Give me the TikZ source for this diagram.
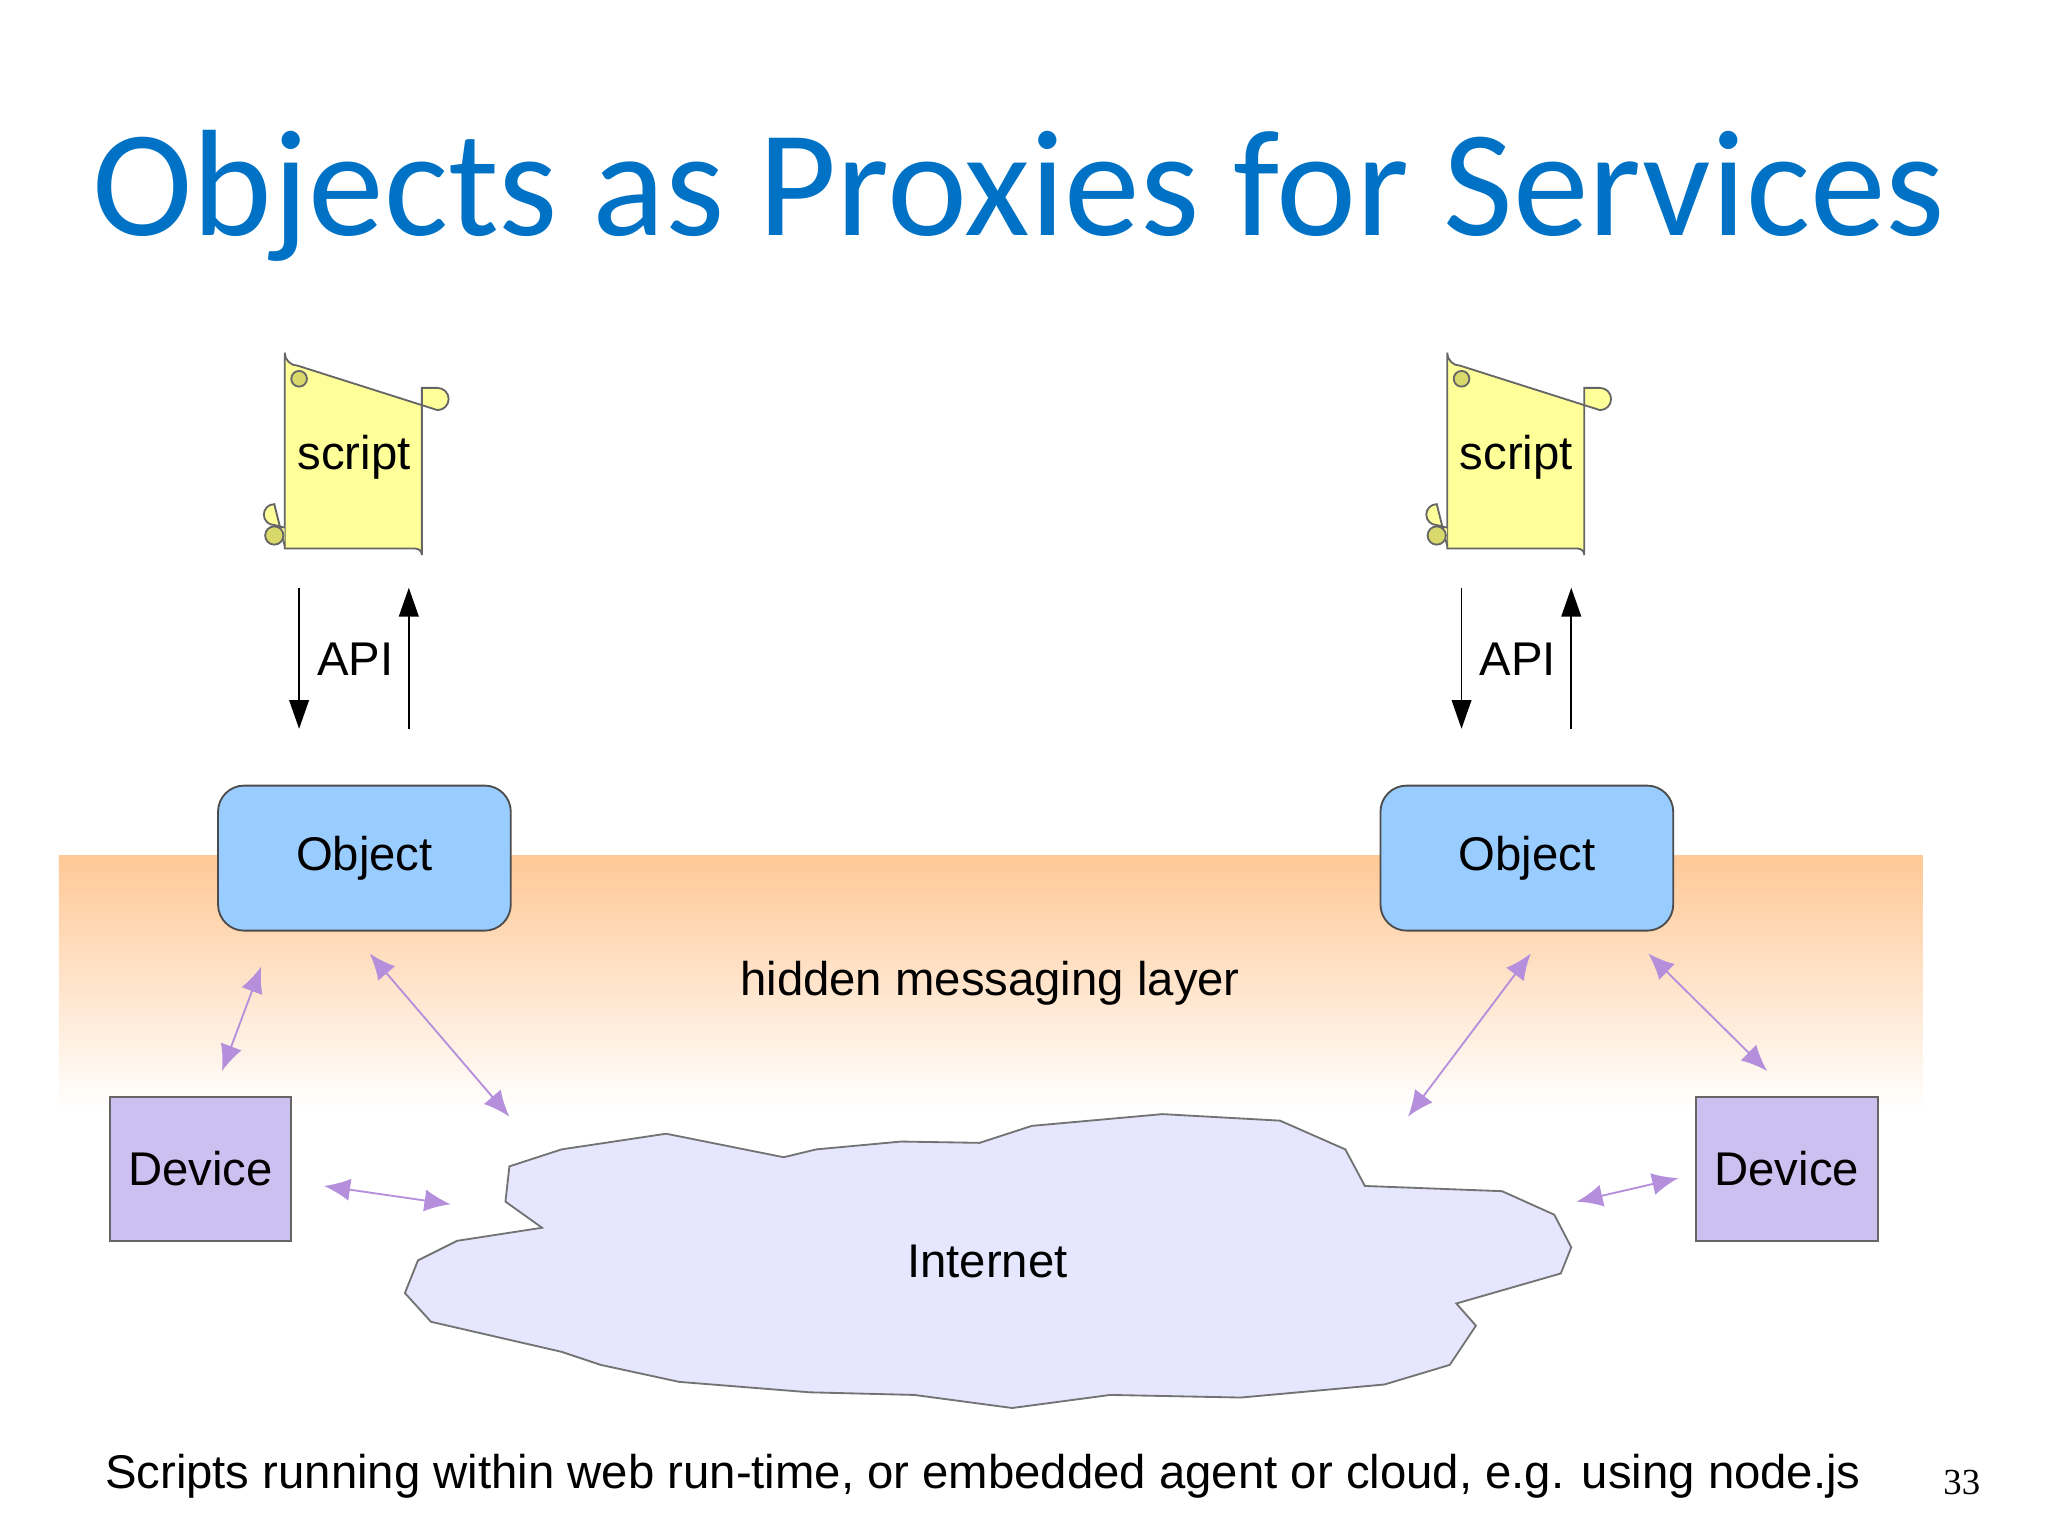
\documentclass[tikz,border=0pt]{standalone}
\usepackage{fontspec}
\setmainfont{Liberation Sans}
\newfontfamily\titlefont{Carlito}
\newfontfamily\numfont{Liberation Serif}
\usetikzlibrary{arrows.meta}
\definecolor{titleblue}{RGB}{0,114,198}
\definecolor{objblue}{RGB}{153,204,255}
\definecolor{devpurple}{RGB}{204,192,240}
\definecolor{cloudfill}{RGB}{230,230,255}
\definecolor{arrpurple}{RGB}{150,95,205}
\definecolor{scrollfill}{RGB}{255,255,153}
\definecolor{bandorange}{RGB}{255,200,150}
\begin{document}
\begin{tikzpicture}[x=0.01cm,y=-0.01cm,
  body/.style={font=\fontsize{10.3pt}{12pt}\selectfont},
  obj/.style={draw=black!70,fill=objblue,rounded corners=0.2cm,minimum width=2.24cm,minimum height=1.11cm,body},
  dev/.style={draw=black!60,fill=devpurple,minimum width=1.39cm,minimum height=1.1cm,body},
  api/.style={-{Triangle[length=0.22cm,width=0.15cm]},thin},
  link/.style={{Latex[length=0.2cm,width=0.17cm]}-{Latex[length=0.2cm,width=0.17cm]},draw=arrpurple!70,fill=arrpurple,thin},
  scrollst/.style={draw=black!60,fill=scrollfill,line width=0.4pt}]
\useasboundingbox (0,0) rectangle (1568,1176);
\fill[white] (0,0) rectangle (1568,1176);
\shade[top color=bandorange,bottom color=white] (45,655) rectangle (1472,850);
\node[font=\titlefont\fontsize{33pt}{36pt}\selectfont,text=titleblue] (title) at (780,150) {Objects as Proxies for Services};
% scrolls
\foreach \dx/\nm in {0/sl,890/sr}{
  \begin{scope}[xshift=\dx*0.01cm]
  \path[scrollst] (218,290) -- (218,420) -- (318,420) arc[start angle=-90,end angle=0,radius=5] -- (323,297) -- (335,297) arc[start angle=-90,end angle=90,radius=8.5] -- (228,280) arc[start angle=90,end angle=180,radius=10] -- cycle;
  \path[scrollst] (218,404) -- (210,402) arc[start angle=90,end angle=270,radius=8] -- (218,418);
  \path[draw=black!60,fill=scrollfill!70!olive] (210,410) circle (7);
  \path[draw=black!60,fill=scrollfill!70!olive] (229,290) circle (6);
  \end{scope}
}
\node[body] (scriptL) at (271,350) {script};
\node[body] (scriptR) at (1161,350) {script};
\coordinate (aL1) at (229,450); \coordinate (aL2) at (229,558);
\coordinate (aL3) at (313,558); \coordinate (aL4) at (313,450);
\coordinate (aR1) at (1119,450); \coordinate (aR2) at (1119,558);
\coordinate (aR3) at (1203,558); \coordinate (aR4) at (1203,450);
\draw[api] (aL1) -- (aL2); \draw[api] (aL3) -- (aL4);
\draw[api] (aR1) -- (aR2); \draw[api] (aR3) -- (aR4);
\node[body] (apiL) at (272,505) {API};
\node[body] (apiR) at (1162,505) {API};
\node[obj] (objL) at (279,657) {Object};
\node[obj] (objR) at (1169,657) {Object};
\node[body] (layer) at (758,753) {hidden messaging layer};
\node[dev] (devL) at (153.5,895) {Device};
\node[dev] (devR) at (1368,895) {Device};
\path[draw=black!55,fill=cloudfill] (390,893) -- (430,880) -- (510,868) -- (600,886) -- (625,880) -- (690,874) -- (750,875) -- (790,862) -- (890,853) -- (980,858) -- (1030,880) -- (1045,908) -- (1150,912) -- (1190,930) -- (1203,955) -- (1195,975) -- (1115,998) -- (1130,1015) -- (1110,1045) -- (1060,1060) -- (950,1070) -- (850,1068) -- (775,1078) -- (700,1068) -- (620,1066) -- (520,1058) -- (460,1045) -- (430,1035) -- (330,1012) -- (310,990) -- (320,965) -- (350,950) -- (415,940) -- (387,920) -- cycle;
\node[body] (internet) at (756,966) {Internet};
\coordinate (p1) at (200,740); \coordinate (p2) at (170,820);
\coordinate (p3) at (283,730); \coordinate (p4) at (390,855);
\coordinate (p5) at (248,908); \coordinate (p6) at (345,922);
\coordinate (p7) at (1172,730); \coordinate (p8) at (1078,855);
\coordinate (p9) at (1262,730); \coordinate (p10) at (1353,820);
\coordinate (p11) at (1207,920); \coordinate (p12) at (1285,902);
\draw[link] (p1) -- (p2); \draw[link] (p3) -- (p4); \draw[link] (p5) -- (p6);
\draw[link] (p7) -- (p8); \draw[link] (p9) -- (p10); \draw[link] (p11) -- (p12);
\node[body,anchor=west] (foot) at (68,1130) {Scripts running within web run-time, or embedded agent or cloud, e.g. using node.js};
\node[font=\numfont\fontsize{8pt}{9pt}\selectfont] (num) at (1502,1135) {33};
\end{tikzpicture}
\end{document}
